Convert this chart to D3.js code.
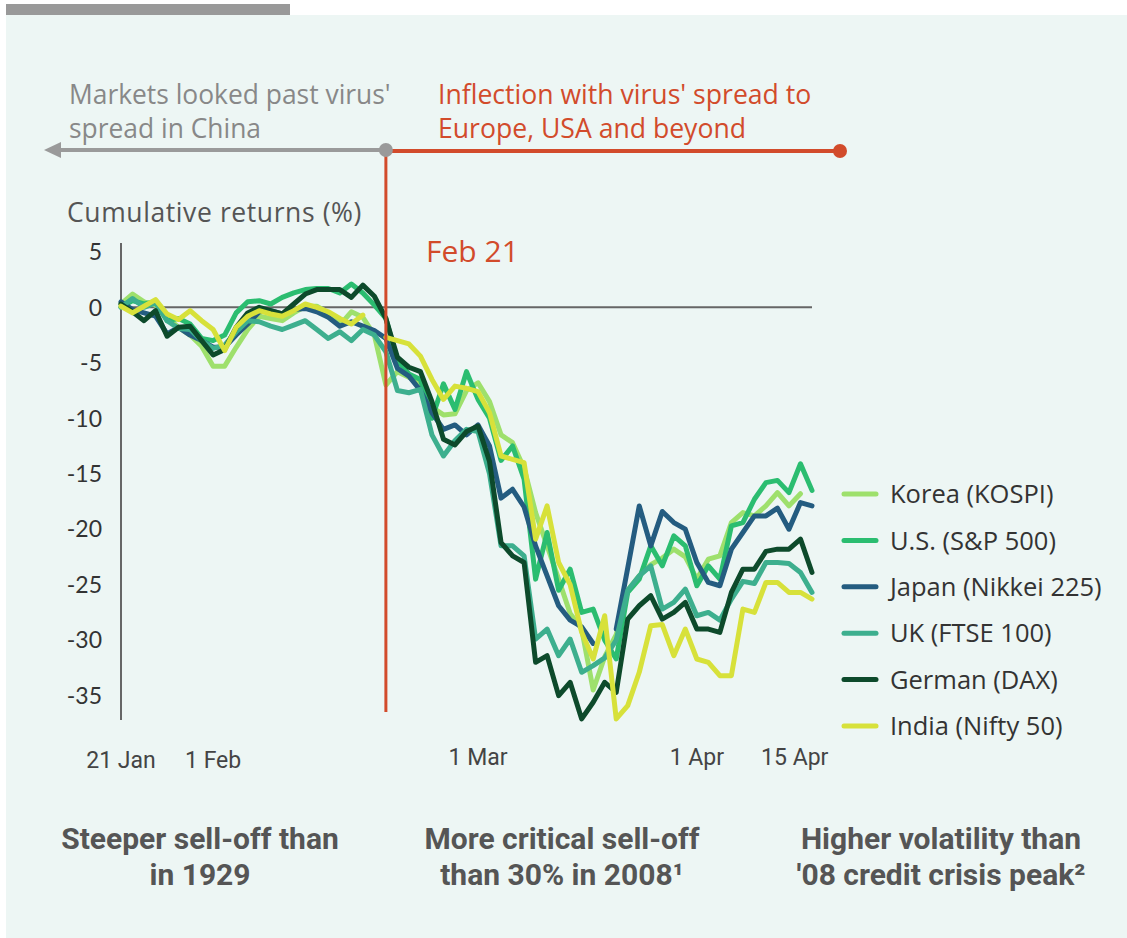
<!DOCTYPE html>
<html>
<head>
<meta charset="utf-8">
<script src="https://cdn.jsdelivr.net/npm/d3@7"></script>
<style>
  body { margin: 0; background: #fff; }
  svg { display: block; }
</style>
</head>
<body>
<div id="chart"></div>
<script>
// trading-day index 0..60 (22 Jan .. 15 Apr), null = market closed
var korea = [0.3, 1.2, 0.5, 0.2, -0.9, -1.8, -2.5, -3.5, -5.3, -5.3, -3.6, -2.0, -0.8, -1.0, -1.2, -0.5, 0.1, 0.1, -0.5, -1.6, -0.4, -0.9, -2.5,
  -7.0, -5.8, -6.3, -6.8, -9.0, -9.7, -9.6, -7.5, -6.8, -8.5, -11.5, -12.2, -14.5, -18.5, -21.5, -24.5, -27.6, -29.0, -34.5, -31.5, -29.5,
  -25.5, -24.2, -23.2, -22.6, -21.8, -22.5, -24.5, -22.7, -22.4, -19.4, -18.5, -18.8, -17.9, -16.7, -17.9, -16.8, null];
var us = [0.0, 0.6, 0.3, 0.5, -1.2, -1.0, -1.5, -2.8, -3.0, -2.5, -0.5, 0.5, 0.6, 0.3, 0.9, 1.3, 1.6, 1.7, 1.7, 1.3, 2.1, 1.3, 0.2,
  -1.0, -4.8, -6.0, -6.5, -10.0, -6.9, -9.2, -5.8, -8.3, -10.0, -13.8, -12.5, -15.5, -24.5, -20.3, -25.5, -23.6, -27.5, -27.2, -30.0, -31.7,
  -25.7, -24.5, -21.5, -23.3, -20.6, -21.5, -25.1, -23.3, -24.5, -19.7, -19.4, -17.3, -15.8, -15.6, -16.7, -14.1, -16.5];
var japan = [0.5, -0.2, -0.5, -0.8, -2.4, -1.8, -2.5, -3.0, -3.6, -3.6, -2.5, -1.5, -0.4, -0.3, -0.6, -0.2, -0.1, -0.4, -0.9, -1.7, -1.3, -1.7, -2.1,
  -2.8, -5.5, -6.2, -7.5, -9.5, -11.0, -10.6, -11.5, -10.6, -12.5, -17.2, -16.4, -18.0, -21.5, -24.2, -26.9, -28.2, -28.8, -30.3, null, -29.0,
  -23.5, -17.9, -21.5, -18.4, -19.4, -20.0, -23.0, -24.8, -25.1, -21.8, -20.3, -18.8, -18.8, -18.1, -20.0, -17.6, -17.9];
var uk = [0.0, 0.8, 0.0, 0.4, -1.2, -1.9, -2.0, -3.0, -3.7, -3.4, -2.2, -1.2, -1.3, -1.7, -2.0, -1.6, -1.2, -2.0, -2.8, -2.2, -3.0, -2.0, -2.5,
  -4.0, -7.5, -7.7, -7.4, -11.5, -13.4, -12.0, -11.0, -11.2, -15.0, -21.5, -21.5, -22.4, -29.9, -29.0, -31.4, -29.9, -32.9, -32.3, -31.6, -30.0,
  -25.5, -24.2, -23.3, -27.2, -26.6, -25.4, -27.8, -27.5, -28.2, -26.3, -24.7, -24.9, -23.0, -23.0, -23.1, -23.9, -25.7];
var german = [0.3, -0.4, -1.2, -0.3, -2.6, -1.8, -1.7, -3.0, -4.3, -3.8, -1.8, -0.5, 0.0, -0.3, -0.6, 0.3, 1.2, 1.6, 1.6, 1.6, 0.9, 2.0, 1.0,
  -1.0, -4.5, -5.4, -5.8, -8.5, -11.9, -12.4, -11.2, -10.7, -13.9, -21.2, -22.4, -23.0, -32.0, -31.4, -35.0, -33.8, -37.1, -35.6, -33.8, -34.7,
  -28.1, -26.9, -26.0, -28.1, -27.5, -26.6, -29.0, -29.0, -29.3, -25.7, -23.6, -23.6, -22.0, -21.8, -21.8, -20.9, -23.9];
var india = [0.1, -0.5, 0.1, 0.7, -0.6, -1.1, -0.3, -1.2, -2.0, -3.9, -1.8, -0.8, -0.3, -0.6, -0.8, -0.3, 0.3, 0.0, -0.4, -1.0, -1.5, -0.7, null,
  -2.7, -3.0, -3.3, -4.4, -6.5, -8.3, -7.1, -7.3, -7.6, -9.5, -13.4, -13.7, -14.0, -20.9, -17.9, -23.0, -25.0, -29.3, -31.7, -27.8, -37.1,
  -35.9, -32.9, -28.7, -28.6, -31.4, -29.0, -31.7, -32.0, -33.2, -33.2, -27.2, -27.5, -24.8, -24.8, -25.7, -25.7, -26.3];

var seriesNames = ["Korea (KOSPI)", "U.S. (S&P 500)", "Japan (Nikkei 225)", "UK (FTSE 100)", "German (DAX)", "India (Nifty 50)"];
var seriesColors = ["#9ee06c", "#2bbd70", "#245c80", "#3daf8e", "#0d4a2b", "#d7e13a"];
var seriesData = [korea, us, japan, uk, german, india];

var yTicks = [5, 0, -5, -10, -15, -20, -25, -30, -35];
var xTickIdx = [0, 8, 31, 50, 58.5];
var xTickLabels = ["21 Jan", "1 Feb", "1 Mar", "1 Apr", "15 Apr"];
var inflectionIdx = 23;

var noteLeft = ["Markets looked past virus'", "spread in China"];
var noteRight = ["Inflection with virus' spread to", "Europe, USA and beyond"];
var footNotes = [
    ["Steeper sell-off than", "in 1929"],
    ["More critical sell-off", "than 30% in 2008\u00b9"],
    ["Higher volatility than", "'08 credit crisis peak\u00b2"]
];

var W = 1127, H = 938;
var grey = "#9a9a9a", red = "#d24b2b";
var bodyFont = "'Open Sans', Lato, sans-serif";
var tickFont = "Lato, 'Open Sans', sans-serif";
var narrowFont = "'Liberation Sans Narrow', 'Roboto', sans-serif";

var svg = d3.select("#chart")
    .append("svg")
    .attr("width", W)
    .attr("height", H);

// panel + grey tab
svg.append("rect").attr("x", 6).attr("y", 15).attr("width", W - 6).attr("height", H - 15).attr("fill", "#edf6f4");
svg.append("rect").attr("x", 6).attr("y", 4).attr("width", 284).attr("height", 11).attr("fill", "#999");

// scales
var xScale = d3.scaleLinear().domain([0, 60]).range([121, 812]);
var yScale = d3.scaleLinear().domain([-37.2, 5.8]).range([720, 243]);

// y axis line and labels
svg.append("line")
    .attr("x1", xScale(0)).attr("x2", xScale(0))
    .attr("y1", yScale(5.8)).attr("y2", yScale(-37.2))
    .attr("stroke", "#666").attr("stroke-width", 2);

svg.append("g").selectAll("text")
    .data(yTicks)
    .join("text")
    .attr("x", 102)
    .attr("y", d => yScale(d))
    .attr("dy", "0.36em")
    .attr("text-anchor", "end")
    .style("font-family", tickFont)
    .style("font-size", "23px")
    .style("fill", "#333")
    .text(d => d);

// zero line
svg.append("line")
    .attr("x1", xScale(0)).attr("x2", xScale(60))
    .attr("y1", yScale(0)).attr("y2", yScale(0))
    .attr("stroke", "#666").attr("stroke-width", 2);

// x tick labels
svg.append("g").selectAll("text")
    .data(xTickIdx)
    .join("text")
    .attr("x", d => xScale(d))
    .attr("y", (d, i) => i < 2 ? 768 : 765)
    .attr("text-anchor", "middle")
    .style("font-family", narrowFont)
    .style("font-size", "23px")
    .style("fill", "#444")
    .text((d, i) => xTickLabels[i]);

// y title
svg.append("text")
    .attr("x", 67).attr("y", 222)
    .style("font-family", bodyFont)
    .style("font-size", "26.5px")
    .style("letter-spacing", "0.6px")
    .style("fill", "#555")
    .text("Cumulative returns (%)");

// lines
var line = d3.line()
    .defined(d => d !== null)
    .x((d, i) => xScale(i))
    .y(d => yScale(d));

seriesData.forEach(function (s, k) {
    svg.append("path")
        .datum(s)
        .attr("d", line)
        .attr("fill", "none")
        .attr("stroke", seriesColors[k])
        .attr("stroke-width", 5)
        .attr("stroke-linejoin", "round")
        .attr("stroke-linecap", "round");
});

// annotation: arrows and Feb 21 marker
var xInf = xScale(inflectionIdx);
svg.append("line")
    .attr("x1", 56).attr("x2", xInf).attr("y1", 150).attr("y2", 150)
    .attr("stroke", grey).attr("stroke-width", 4);
svg.append("path")
    .attr("d", "M44,150 L61,142 L61,158 Z")
    .attr("fill", grey);
svg.append("line")
    .attr("x1", xInf).attr("x2", 840).attr("y1", 151).attr("y2", 151)
    .attr("stroke", red).attr("stroke-width", 4);
svg.append("line")
    .attr("x1", xInf).attr("x2", xInf).attr("y1", 150).attr("y2", 712)
    .attr("stroke", red).attr("stroke-width", 3);
svg.append("circle").attr("cx", xInf).attr("cy", 150).attr("r", 7).attr("fill", grey);
svg.append("circle").attr("cx", 840).attr("cy", 151).attr("r", 7).attr("fill", red);

svg.append("g").selectAll("text")
    .data(noteLeft)
    .join("text")
    .attr("x", 69).attr("y", (d, i) => 104 + i * 34)
    .style("font-family", bodyFont)
    .style("font-size", "26.4px")
    .style("fill", "#888")
    .text(d => d);

svg.append("g").selectAll("text")
    .data(noteRight)
    .join("text")
    .attr("x", 438).attr("y", (d, i) => 104 + i * 34)
    .style("font-family", bodyFont)
    .style("font-size", "26.6px")
    .style("fill", red)
    .text(d => d);

svg.append("text")
    .attr("x", 426).attr("y", 262)
    .style("font-family", bodyFont)
    .style("font-size", "30px")
    .style("fill", red)
    .text("Feb 21");

// legend
var legend = svg.append("g").selectAll("g")
    .data(seriesNames)
    .join("g")
    .attr("transform", (d, i) => "translate(0," + (494 + i * 46.4) + ")");
legend.append("line")
    .attr("x1", 844).attr("x2", 876)
    .attr("stroke", (d, i) => seriesColors[i])
    .attr("stroke-width", 5)
    .attr("stroke-linecap", "round");
legend.append("text")
    .attr("x", 890).attr("dy", "0.36em")
    .style("font-family", bodyFont)
    .style("font-size", "25.5px")
    .style("fill", "#333")
    .text(d => d);

// bottom notes
var footX = [200, 562, 941];
footNotes.forEach(function (lines, k) {
    svg.append("g").selectAll("text")
        .data(lines)
        .join("text")
        .attr("x", footX[k])
        .attr("y", (d, i) => 849 + i * 36)
        .attr("text-anchor", "middle")
        .style("font-family", narrowFont)
        .style("font-weight", "bold")
        .style("font-size", "30px")
        .style("fill", "#555")
        .text(d => d);
});
</script>
</body>
</html>
